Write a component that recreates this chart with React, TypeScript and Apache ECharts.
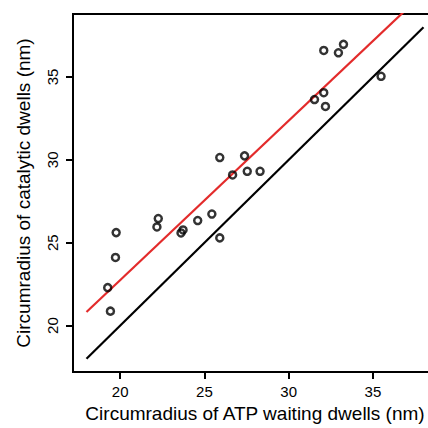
import React, { useEffect, useRef } from "react";
import * as echarts from "echarts";

const waitingRadius = [
  19.76, 19.72, 19.26, 19.42, 22.26, 22.18, 23.73, 23.61, 24.6, 25.44, 25.91,
  25.91, 27.38, 26.67, 27.54, 28.3, 32.08, 33.25, 32.95, 35.48, 31.53, 32.08, 32.18,
];
const catalyticRadius = [
  25.61, 24.11, 22.29, 20.87, 26.46, 25.95, 25.77, 25.59, 26.34, 26.73, 25.29,
  30.14, 30.24, 29.09, 29.31, 29.31, 36.6, 36.97, 36.46, 35.04, 33.64, 34.05, 33.22,
];
const identityX = [18, 38];
const identityY = [18, 38];
const fitX = [18, 38];
const fitY = [20.82, 40.06];
const xTicks = [20, 25, 30, 35];
const yTicks = [20, 25, 30, 35];

const FONT = "'Liberation Sans', Arial, Helvetica, sans-serif";

export default function App() {
  const ref = useRef<HTMLDivElement>(null);
  useEffect(() => {
    if (!ref.current) return;
    const chart = echarts.init(ref.current, undefined, { renderer: "svg" });
    const axisCommon = {
      axisLine: { show: true, lineStyle: { color: "#000", width: 2 } },
      axisTick: { show: true, length: 7, inside: false, lineStyle: { color: "#000", width: 2 } },
      splitLine: { show: false },
      nameLocation: "middle" as const,
      nameTextStyle: { color: "#000", fontSize: 19, fontFamily: FONT },
    };
    chart.setOption({
      animation: false,
      backgroundColor: "#fff",
      grid: {
        left: 73,
        top: 14,
        right: 3,
        bottom: 51,
        show: true,
        borderColor: "#000",
        borderWidth: 2,
        backgroundColor: "transparent",
      },
      xAxis: {
        ...axisCommon,
        type: "value",
        min: 17.2,
        max: 38.8,
        name: "Circumradius of ATP waiting dwells (nm)",
        nameGap: 32,
        axisTick: { ...axisCommon.axisTick, customValues: xTicks },
        axisLabel: {
          customValues: xTicks,
          color: "#000",
          fontSize: 15,
          fontFamily: FONT,
          margin: 12,
        },
      },
      yAxis: {
        ...axisCommon,
        type: "value",
        min: 17.2,
        max: 38.8,
        name: "Circumradius of catalytic dwells (nm)",
        nameGap: 40,
        axisTick: { ...axisCommon.axisTick, customValues: yTicks },
        axisLabel: {
          customValues: yTicks,
          color: "#000",
          fontSize: 15,
          fontFamily: FONT,
          margin: 13,
          rotate: 90,
        },
      },
      series: [
        {
          type: "line",
          data: identityX.map((x, i) => [x, identityY[i]]),
          showSymbol: false,
          lineStyle: { color: "#000", width: 2.2 },
          clip: true,
          z: 2,
        },
        {
          type: "line",
          data: fitX.map((x, i) => [x, fitY[i]]),
          showSymbol: false,
          lineStyle: { color: "#e32b2b", width: 2.2 },
          clip: true,
          z: 3,
        },
        {
          type: "scatter",
          data: waitingRadius.map((x, i) => [x, catalyticRadius[i]]),
          symbol: "circle",
          symbolSize: 7,
          itemStyle: { color: "rgba(0,0,0,0)", borderColor: "#000", borderWidth: 2.5 },
          z: 4,
        },
      ],
    });
    return () => chart.dispose();
  }, []);
  return (
    <div style={{ position: "fixed", left: 0, top: 0, width: 428, height: 428, overflow: "hidden" }}>
      <div ref={ref} style={{ width: 440, height: 428 }} />
    </div>
  );
}
